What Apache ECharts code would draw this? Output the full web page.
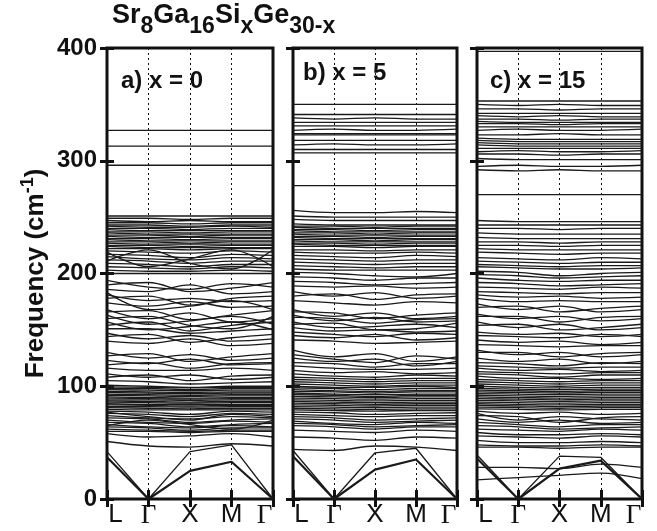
<!DOCTYPE html>
<html><head><meta charset="utf-8">
<script src="https://cdn.jsdelivr.net/npm/echarts@6/dist/echarts.min.js"></script>
<style>html,body{margin:0;padding:0;background:#fff}#c{width:657px;height:531px}</style>
</head><body><div id="c"></div>
<script>
// k-path tick labels and positions
const kLabels = ['L', 'Γ', 'X', 'M', 'Γ'];
const kPos = [0, 1, 2, 3, 4];
const panelTitles = ['a) x = 0', 'b) x = 5', 'c) x = 15'];

// Panel a) x = 0 : band frequencies (cm^-1) at L, Γ, X, M, Γ
const bandsA = [
 [327,327,327,327,327],[313,313,313,313,313],[296,296,296,296,296],
 [251,251,251,251,251],[249,249,248,249,249],[247,246,247,246,246],[245,245,244,245,245],
 [243,243,242,243,243],[242,241,241,242,241],[240,240,239,240,240],[239,238,238,238,238],
 [237,237,236,237,237],[236,235,235,235,235],[234,234,233,234,234],[233,232,232,232,232],
 [231,231,230,231,231],[230,229,229,229,229],[228,228,227,228,228],[227,226,226,226,226],
 [225,225,224,225,225],[224,223,223,223,223],[222,222,221,222,222],[220,219,218,220,219],
 [217,216,214,217,216],[215,213,212,214,213],[212,211,209,211,211],[209,208,206,208,208],
 [206,205,204,206,205],[203,202,202,203,202],[200,200,200,200,200],
 [219,206,213,221,206],[211,221,209,204,221],
 [194,188,186,191,188],[190,192,184,187,192],[186,184,190,182,184],[181,176,178,175,176],
 [178,180,172,178,180],[183,168,171,176,168],[174,171,175,170,171],[168,160,165,157,160],
 [166,167,159,163,167],[163,155,158,162,155],[160,162,154,151,162],[157,150,153,157,150],
 [154,157,149,154,157],[151,151,147,149,151],[147,142,145,140,142],[144,146,139,143,146],
 [140,138,142,136,138],[130,125,128,123,125],[127,129,122,126,129],[123,120,124,119,120],
 [119,121,116,120,121],[116,114,114,116,114],[111,108,110,106,108],[108,110,105,109,110],
 [105,104,102,103,104],
 [101,100,99,100,100],[99.5,99,98.5,99,99],[98,98,97,98,98],[97,96.5,96,96.5,96.5],
 [95.5,95,94.5,95,95],[94.5,94,93.5,94,94],[93,92.5,92,92.5,92.5],[92,91.5,91,91.5,91.5],
 [90.5,90,89.5,90,90],[89.5,89,88.5,89,89],[88,88,87.5,88,88],[87,86.5,86,86.5,86.5],
 [86,85.5,85,85.5,85.5],[84.5,84,84,84,84],[83.5,83,82.5,83,83],[82,82,81.5,82,82],
 [81,80.5,80,80.5,80.5],[79.5,79,79,79,79],
 [78,77,75,78,77],[76,75,73,76,75],[74,72,71,73,72],[72,71,68,70,71],[70,68,67,69,68],
 [68,67,64,66,67],[66,64,63,65,64],[64,63,61,63,63],[62,61,60,61,61],[60,60,59,60,60],
 [77,73,70,75,73],[65,70,66,62,70],
 [58,55,56,58,55],[51,47,46,49,47],[42,0,42,48,0]
];
const acousticA = [[37,0,25,33,0]];

// Panel b) x = 5
const bandsB = [
 [350,350,350,350,350],[341,341,341,341,341],[338,337,338,337,337],[334,334,334,334,334],
 [331,331,331,331,331],[327,328,327,327,328],[324,324,324,324,324],[323,323,323,323,323],
 [318,318,318,318,318],[314,315,314,314,315],[310,310,310,310,310],[307,307,307,307,307],
 [278,278,278,278,278],[256,254,254,255,254],[251,250,250,250,250],[248,247,247,247,247],
 [244,243,243,243,243],[242,242,241,242,242],[241,240,240,240,240],[239,239,238,239,239],
 [238,237,237,237,237],[236,236,235,236,236],[235,234,234,234,234],[233,233,232,233,233],
 [232,231,231,231,231],[230,230,229,230,230],[229,228,228,228,228],[227,227,226,227,227],
 [226,225,225,225,225],[224,224,223,224,224],[221,221,220,221,221],[219,218,218,219,218],
 [216,215,214,216,215],[213,212,211,212,212],[210,209,208,209,209],[207,206,205,206,206],
 [204,203,203,203,203],[201,200,198,197,200],[197,196,194,196,196],[193,192,190,191,192],
 [189,188,189,187,188],
 [184,180,183,178,180],[180,182,177,181,182],[176,174,172,175,174],[168,162,165,160,162],
 [166,165,160,163,165],[163,158,161,157,158],[161,160,156,159,160],[157,152,153,155,152],
 [155,156,150,151,156],[152,149,150,148,149],[148,146,144,147,146],[145,143,146,141,143],
 [141,140,138,139,140],[132,126,129,122,126],[128,124,121,127,124],[125,122,124,118,122],
 [121,120,117,120,120],[118,116,115,115,116],[114,112,113,111,112],[111,109,108,110,109],
 [108,107,106,107,107],
 [106,105,104,105,105],[104,103,102,103,103],[102,101,100,101,101],[100,99,99,100,99],
 [98.5,98,97,98,98],[97,96,95.5,96,96],[95.5,95,94,95,95],[94,93,92.5,93,93],
 [92.5,92,91,92,92],[91,90.5,90,90.5,90.5],[89.5,89,88.5,89,89],[88,87.5,87,87.5,87.5],
 [86.5,86,85.5,86,86],[85,84.5,84,84.5,84.5],[83.5,83,82.5,83,83],[82,81.5,81,81.5,81.5],
 [80.5,80,79.5,80,80],[79,78.5,78,78.5,78.5],[77,76.5,75,76,76.5],[75,74,73,74,74],
 [73,72,70,71,72],[71,70,68,69,70],[69,67,66,68,67],[67,66,64,65,66],[65,64,62,64,64],
 [61,60,59,61,60],[55,54,52,55,54],[44,43,47,46,43],[43,0,41,45,0]
];
const acousticB = [[38,0,26,35,0]];

// Panel c) x = 15
const bandsC = [
 [397,397,397,397,397],[353,353,353,353,353],[350,349,350,349,349],[346,346,345,346,346],
 [342,342,342,342,342],[340,339,340,339,339],[337,337,336,337,337],[335,334,334,334,334],
 [333,333,332,333,333],[330,330,330,330,330],[327,328,327,327,328],[323,323,324,323,323],
 [320,319,319,319,319],[318,317,317,317,317],[316,315,315,315,315],[314,313,313,313,313],
 [311,311,311,311,311],[308,309,308,308,309],[306,306,305,306,306],[302,301,301,301,301],
 [295,296,295,295,296],[292,291,292,291,291],[270,270,270,270,270],
 [247,246,246,246,246],[243,243,243,243,243],[240,240,239,240,240],[236,235,235,235,235],
 [232,231,231,231,231],[228,228,227,228,228],[225,225,224,225,225],[222,221,221,221,221],
 [219,218,217,218,218],[214,213,212,214,213],[211,210,209,210,210],[208,207,206,207,207],
 [206,205,204,204,205],[202,201,198,200,201],[199,198,196,197,198],[196,194,193,194,194],
 [192,191,189,190,191],[188,187,186,188,187],[184,183,182,183,183],[181,179,180,178,179],
 [178,175,176,175,175],[173,168,171,166,168],[170,171,166,169,171],[164,160,162,158,160],
 [162,162,157,161,162],[157,152,155,150,152],[154,155,150,152,155],[148,146,147,144,146],
 [145,144,143,146,144],[141,139,140,137,139],[137,136,135,136,136],[132,128,130,126,128],
 [130,130,126,129,130],[125,122,124,120,122],[121,120,118,121,120],
 [118,117,116,117,117],[116,114,115,113,114],[113,112,111,112,112],[111,110,108,110,110],
 [109,107,107,106,107],[106,105,104,105,105],[104,103,102,103,103],[102,101,100,101,101],
 [100,99,98.5,99,99],[98,97.5,97,97.5,97.5],[96.5,96,95.5,96,96],[95,94.5,94,94.5,94.5],
 [93.5,93,92.5,93,93],[92,91.5,91,91.5,91.5],[90.5,90,89.5,90,90],[89,88.5,88,88.5,88.5],
 [87.5,87,86.5,87,87],[86,85.5,85,85.5,85.5],[84.5,84,83.5,84,84],[83,82.5,82,82.5,82.5],
 [81.5,81,80.5,81,81],[80,79.5,79,79.5,79.5],
 [78,76,77,75,76],[76,70,73,71,70],[74,73,68,72,73],[71,68,70,67,68],[68,66,64,66,66],
 [65,64,62,63,64],[62,61,60,62,61],[59,57,57,58,57],[56,55,54,56,55],[52,50,50,51,50],
 [48,47,47,48,47],[46,46,45,46,46],
 [39,0,38,37,0],[28,28,27,31,28],[17,19,21,23,18]
];
const acousticC = [[36,0,27,34,0]];

const FONT = 'Liberation Sans, Arial, sans-serif';
const SERIF = 'Liberation Serif, Times New Roman, serif';
const INK = '#111';

const panels = [
  {bands: bandsA, acoustic: acousticA, left: 107, width: 166, lx: 116, ly: 64},
  {bands: bandsB, acoustic: acousticB, left: 293, width: 164, lx: 298, ly: 56},
  {bands: bandsC, acoustic: acousticC, left: 477, width: 165, lx: 485, ly: 64}
];

const grid = [], xAxis = [], yAxis = [], series = [];
const titles = [{
  left: 107, top: 6,
  text: '{m|Sr}{s|8}{m|Ga}{s|16}{m|Si}{s|x}{m|Ge}{s|30-x}',
  textStyle: {rich: {
    m: {fontSize: 27, fontWeight: 'bold', fontFamily: FONT, color: INK, verticalAlign: 'bottom', lineHeight: 27, padding: [0,0,9,0]},
    s: {fontSize: 23, fontWeight: 'bold', fontFamily: FONT, color: INK, verticalAlign: 'bottom', lineHeight: 23}
  }}
}];

panels.forEach((p, i) => {
  grid.push({left: p.left, top: 48, width: p.width, height: 451, show: true,
    borderColor: INK, borderWidth: 3, backgroundColor: '#fff'});
  const tick = {show: true, inside: true, length: 9, lineStyle: {color: INK, width: 3}};
  xAxis.push({
    type: 'value', gridIndex: i, min: 0, max: 4, interval: 1, position: 'bottom',
    axisLine: {show: false}, axisTick: tick,
    splitLine: {show: true, lineStyle: {color: INK, width: 1, type: [2, 3]}},
    axisLabel: {
      margin: 3, color: INK,
      formatter: v => {
        const t = kLabels[v];
        if (v === 0) return '{first|' + t + '}';
        if (v === 4) return '{last|' + t + '}';
        return (t === 'Γ' ? '{g|' : '{s|') + t + '}';
      },
      rich: {
        s: {fontSize: 26, fontFamily: FONT, color: INK},
        g: {fontSize: 27, fontFamily: SERIF, color: INK},
        first: {fontSize: 26, fontFamily: FONT, color: INK, padding: [0,0,0,17]},
        last: {fontSize: 27, fontFamily: SERIF, color: INK, padding: [0,17,0,0]}
      }
    }
  });
  xAxis.push({
    type: 'value', gridIndex: i, min: 0, max: 4, interval: 1, position: 'top',
    axisLine: {show: false}, axisTick: {show: true, inside: true, length: 8, lineStyle: {color: INK, width: 3}},
    axisLabel: {show: false}, splitLine: {show: false}
  });
  const ytick = {show: true, inside: true, length: 7, lineStyle: {color: INK, width: 3}};
  yAxis.push({
    type: 'value', gridIndex: i, min: 0, max: 400, interval: 100, position: 'left',
    axisLine: {show: false}, axisTick: ytick, splitLine: {show: false},
    axisLabel: {show: i === 0, margin: 10, fontSize: 24, fontWeight: 'bold', fontFamily: FONT, color: INK},
    name: i === 0 ? '{m|Frequency (cm}{p|-1}{m|)}' : '',
    nameLocation: 'middle', nameRotate: 90, nameGap: 58,
    nameTextStyle: {rich: {
      m: {fontSize: 26, fontWeight: 'bold', fontFamily: FONT, color: INK, verticalAlign: 'bottom', lineHeight: 26},
      p: {fontSize: 18, fontWeight: 'bold', fontFamily: FONT, color: INK, verticalAlign: 'bottom', lineHeight: 18, padding: [0,0,12,0]}
    }}
  });
  yAxis.push({
    type: 'value', gridIndex: i, min: 0, max: 400, interval: 100, position: 'right',
    axisLine: {show: false}, axisTick: ytick, splitLine: {show: false}, axisLabel: {show: false}
  });
  titles.push({left: p.lx, top: p.ly, text: panelTitles[i],
    textStyle: {fontSize: 24, fontWeight: 'bold', fontFamily: FONT, color: INK}});
  const mk = (b, w) => ({
    type: 'line', xAxisIndex: 2 * i, yAxisIndex: 2 * i, silent: true, symbol: 'none',
    smooth: Math.min.apply(null, b) > 0 ? 0.35 : false,
    data: b.map((v, k) => [kPos[k], v]),
    lineStyle: {color: '#1a1a1a', width: w}, z: 3
  });
  p.bands.forEach(b => series.push(mk(b, 1.3)));
  p.acoustic.forEach(b => series.push(mk(b, 2.2)));
});

const chart = echarts.init(document.getElementById('c'), null, {renderer: 'canvas'});
chart.setOption({animation: false, title: titles, grid, xAxis, yAxis, series});
</script>
</body></html>
